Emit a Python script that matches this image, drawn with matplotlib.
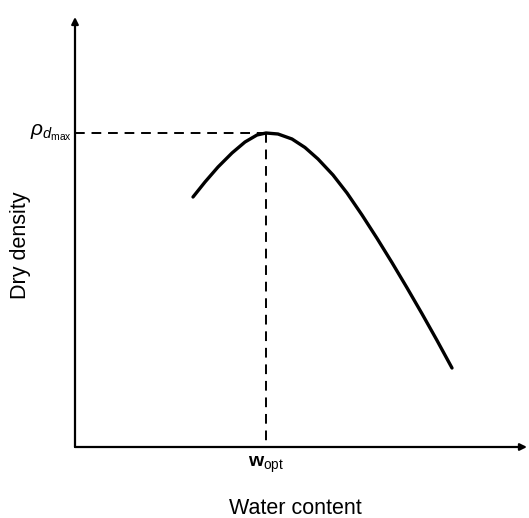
import matplotlib.pyplot as plt

plt.rcParams['font.family'] = ['Liberation Sans', 'DejaVu Sans']
plt.rcParams['mathtext.fontset'] = 'custom'
plt.rcParams['mathtext.rm'] = 'Liberation Sans'
plt.rcParams['mathtext.it'] = 'Liberation Sans:italic'
plt.rcParams['mathtext.bf'] = 'Liberation Sans:bold'

# compaction curve, arbitrary units
water_content = [118, 130, 143, 157, 170, 182, 191, 203, 217, 230, 243, 258,
                 272, 287, 302, 317, 332, 347, 362, 377]
dry_density = [250, 265, 280, 294, 305, 312, 314, 313, 308, 299.5, 288, 272,
               254, 232, 208.7, 184.4, 159.2, 133.3, 106.6, 79]
w_opt = 191
rho_max = 314

fig = plt.figure(figsize=(5.29, 5.18), dpi=100)
ax = fig.add_axes([75 / 529, 71 / 518, 450 / 529, 429 / 518])
ax.set_xlim(0, 450)
ax.set_ylim(0, 429)
ax.axis('off')

# axes with arrow heads
ax.annotate('', xy=(452, 0), xytext=(0, 0),
            arrowprops=dict(arrowstyle='-|>', color='black', lw=1.6,
                            mutation_scale=10, shrinkA=0, shrinkB=0),
            annotation_clip=False)
ax.annotate('', xy=(0, 430), xytext=(0, 0),
            arrowprops=dict(arrowstyle='-|>', color='black', lw=1.6,
                            mutation_scale=10, shrinkA=0, shrinkB=0),
            annotation_clip=False)

ax.plot(water_content, dry_density, color='black', lw=2.4,
        solid_capstyle='round', solid_joinstyle='round')

ax.plot([0, w_opt], [rho_max, rho_max], color='black', lw=1.4, ls=(0, (5, 3.5)))
ax.plot([w_opt, w_opt], [rho_max, 0], color='black', lw=1.4, ls=(0, (5, 3.5)))

ax.text(-3, rho_max, r'$\rho_{d_{\mathrm{max}}}$', ha='right', va='center', fontsize=15)
ax.text(w_opt, -8, r'$\mathbf{w}_{\mathrm{opt}}$', ha='center', va='top', fontsize=14)
ax.text(220, -61, 'Water content', ha='center', va='center', fontsize=15.5)
ax.text(-54, 202, 'Dry density', ha='center', va='center', rotation=90, fontsize=15.5)

fig.savefig('out.png', dpi=100)
